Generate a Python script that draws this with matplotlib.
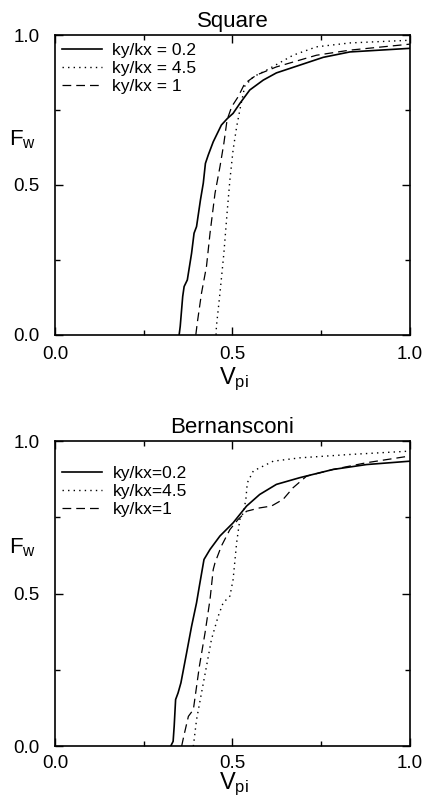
import matplotlib
matplotlib.use("Agg")
import matplotlib.pyplot as plt

plt.rcParams["font.family"] = ["Liberation Sans", "DejaVu Sans"]

# Square panel
sq_x_02 = [0.350, 0.353, 0.360, 0.364, 0.373, 0.385, 0.392, 0.399, 0.410, 0.418, 0.424,
           0.432, 0.446, 0.469, 0.486, 0.502, 0.521, 0.549, 0.587, 0.624, 0.690, 0.756,
           0.831, 1.0]
sq_y_02 = [0.0, 0.028, 0.128, 0.161, 0.183, 0.272, 0.339, 0.361, 0.450, 0.506, 0.572,
           0.600, 0.644, 0.700, 0.722, 0.739, 0.772, 0.817, 0.850, 0.874, 0.900, 0.926,
           0.944, 0.956]
sq_x_45 = [0.454, 0.455, 0.465, 0.476, 0.485, 0.493, 0.502, 0.512, 0.521, 0.535, 0.559,
           0.596, 0.671, 0.737, 0.831, 1.0]
sq_y_45 = [0.0, 0.028, 0.139, 0.272, 0.406, 0.517, 0.617, 0.694, 0.750, 0.830, 0.861,
           0.883, 0.933, 0.961, 0.974, 0.983]
sq_x_1 = [0.397, 0.401, 0.413, 0.427, 0.437, 0.451, 0.465, 0.476, 0.485, 0.498, 0.516,
          0.535, 0.568, 0.624, 0.737, 0.831, 1.0]
sq_y_1 = [0.0, 0.039, 0.139, 0.228, 0.339, 0.472, 0.561, 0.639, 0.717, 0.761, 0.794,
          0.839, 0.867, 0.894, 0.933, 0.950, 0.970]

# Bernansconi panel
be_x_02 = [0.326, 0.333, 0.336, 0.340, 0.347, 0.355, 0.371, 0.385, 0.399, 0.407, 0.420,
           0.437, 0.465, 0.502, 0.540, 0.577, 0.624, 0.690, 0.784, 0.878, 1.0]
be_y_02 = [0.0, 0.016, 0.066, 0.153, 0.175, 0.208, 0.306, 0.393, 0.470, 0.525, 0.612,
           0.645, 0.689, 0.732, 0.787, 0.825, 0.858, 0.880, 0.907, 0.923, 0.934]
be_x_45 = [0.390, 0.399, 0.413, 0.427, 0.441, 0.460, 0.474, 0.493, 0.502, 0.512, 0.521,
           0.531, 0.538, 0.542, 0.559, 0.615, 0.690, 0.831, 1.0]
be_y_45 = [0.0, 0.087, 0.175, 0.262, 0.350, 0.426, 0.470, 0.492, 0.546, 0.667, 0.743,
           0.765, 0.809, 0.863, 0.902, 0.934, 0.945, 0.956, 0.967]
be_x_1 = [0.357, 0.363, 0.376, 0.390, 0.407, 0.423, 0.437, 0.446, 0.451, 0.469, 0.493,
          0.516, 0.540, 0.577, 0.610, 0.643, 0.671, 0.709, 0.784, 0.878, 1.0]
be_y_1 = [0.0, 0.033, 0.098, 0.120, 0.262, 0.372, 0.481, 0.579, 0.601, 0.656, 0.710,
          0.743, 0.770, 0.781, 0.787, 0.809, 0.847, 0.885, 0.907, 0.929, 0.951]

sq_labels = ["ky/kx = 0.2", "ky/kx = 4.5", "ky/kx = 1"]
be_labels = ["ky/kx=0.2", "ky/kx=4.5", "ky/kx=1"]

fig = plt.figure(figsize=(4.26, 7.99), dpi=100)
ax1 = fig.add_axes([0.129, 0.581, 0.833, 0.375])
ax2 = fig.add_axes([0.129, 0.066, 0.833, 0.382])

panels = [
    (ax1, "Square", sq_labels, (sq_x_02, sq_y_02), (sq_x_45, sq_y_45), (sq_x_1, sq_y_1),
     0.973, 8, -0.15),
    (ax2, "Bernansconi", be_labels, (be_x_02, be_y_02), (be_x_45, be_y_45), (be_x_1, be_y_1),
     0.918, 6, -0.124),
]

for ax, title, labels, a, b, c, leg_y, xpad, vpi_y in panels:
    ax.plot(a[0], a[1], color="black", lw=1.2, label=labels[0])
    ax.plot(b[0], b[1], color="black", lw=1.0, linestyle=(0, (1, 3)), label=labels[1])
    ax.plot(c[0], c[1], color="black", lw=0.9, linestyle=(0, (7, 4)), label=labels[2])
    ax.set_xlim(0, 1)
    ax.set_ylim(0, 1)
    ax.set_xticks([0, 0.5, 1])
    ax.set_xticklabels(["0.0", "0.5", "1.0"])
    ax.set_yticks([0, 0.5, 1])
    ax.set_yticklabels(["0.0", "0.5", "1.0"])
    ax.set_xticks([0.25, 0.75], minor=True)
    ax.set_yticks([0.25, 0.75], minor=True)
    ax.tick_params(which="both", direction="in", top=True, right=True, labelsize=13.5)
    ax.tick_params(which="major", length=6, width=1)
    ax.tick_params(which="minor", length=3.5, width=1)
    ax.tick_params(axis="x", which="major", pad=xpad)
    ax.tick_params(axis="y", which="major", pad=11)
    for s in ax.spines.values():
        s.set_linewidth(1.2)
    ax.set_title(title, fontsize=16, pad=6)
    ax.text(0.504, vpi_y, r"$\mathregular{V_{pi}}$", fontsize=17, transform=ax.transAxes,
            ha="center", va="center")
    ax.text(-0.09, 0.65, r"$\mathregular{F_{w}}$", fontsize=16, transform=ax.transAxes,
            ha="center", va="center")
    ax.legend(loc="upper left", bbox_to_anchor=(0.02, leg_y), frameon=False,
              fontsize=12.5, handlelength=2.3, handletextpad=0.6, labelspacing=0.15,
              borderpad=0, borderaxespad=0)

fig.savefig("out.png", dpi=100)
